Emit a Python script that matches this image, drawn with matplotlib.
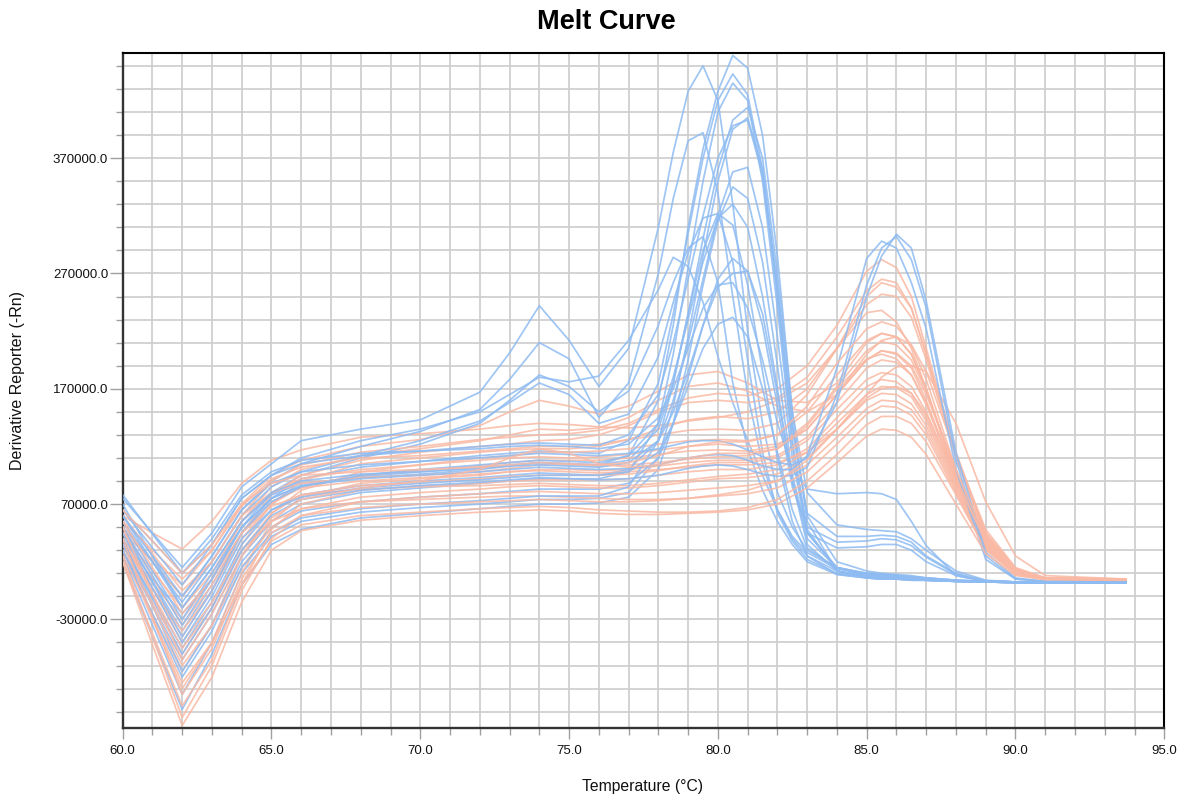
import matplotlib
matplotlib.use("Agg")
import matplotlib.pyplot as plt
from matplotlib.ticker import FixedLocator, MultipleLocator, FuncFormatter

# ---------------- data (derivative values listed in thousands) ----------------
SCALE = 1000.0

TEMP_BLUE = [60, 61, 62, 63, 64, 65, 66, 68, 70, 72, 73, 74, 75, 76, 77, 78,
             78.5, 79, 79.5, 80, 80.5, 81, 81.5, 82, 82.5, 83,
             84, 85, 85.5, 86, 86.5, 87, 88, 89, 90, 91, 93.7]

TEMP_SALMON = [60, 61, 62, 63, 64, 65, 66, 68, 70, 72, 73, 74, 75, 76, 77, 78,
               79, 80, 81, 82, 83, 84, 85, 85.5, 86, 86.5,
               87, 88, 89, 90, 91, 93.7]

blue_01 = [75, 45, 15, 45, 85, 105, 125, 135, 143, 167, 201, 242, 212, 172, 205, 310,
           375, 428, 450, 420, 330, 220, 140, 80, 50, 30, 15, 10, 9, 8, 7, 6, 4, 3, 2.5, 2, 2]
blue_02 = [50, 20, -10, 25, 65, 90, 105, 120, 133, 152, 178, 210, 196, 145, 175, 270,
           335, 385, 392, 340, 250, 165, 105, 65, 40, 25, 12, 8, 7, 6, 5, 4.5, 3.5, 3, 2.5, 2, 2]
blue_03 = [40, 5, -25, 5, 50, 80, 95, 110, 122, 140, 160, 182, 172, 150, 168, 225,
           262, 292, 302, 262, 175, 118, 82, 55, 35, 20, 9, 6, 5, 5, 4, 4, 3, 2.5, 2, 2, 2]
blue_04 = [65, 38, 10, 35, 75, 95, 110, 125, 135, 150, 165, 180, 176, 181, 212, 256,
           284, 276, 245, 198, 158, 125, 95, 65, 42, 28, 14, 9, 8, 7, 6, 5, 3.5, 3, 2.5, 2, 2]
blue_05 = [55, 20, -15, 20, 60, 85, 98, 112, 125, 142, 158, 175, 165, 140, 148, 198,
           245, 288, 318, 322, 280, 195, 115, 62, 38, 22, 10, 7, 6, 6, 5, 4, 3, 2.5, 2, 2, 2]
blue_06 = [70, 25, -20, 15, 55, 78, 88, 93, 96, 100, 103, 106, 105, 104, 112, 160,
           225, 310, 378, 428, 459, 448, 390, 285, 150, 55, 12, 6, 5, 5, 4, 4, 3, 2.5, 2, 2, 2]
blue_07 = [45, 3, -40, 0, 45, 75, 92, 102, 107, 112, 114, 116, 115, 114, 125, 175,
           235, 305, 370, 420, 443, 425, 360, 250, 125, 48, 12, 7, 6, 6, 5, 4, 3, 2.5, 2, 2, 2]
blue_08 = [30, -18, -65, -25, 25, 55, 70, 80, 84, 88, 90, 92, 92, 92, 98, 140,
           200, 275, 350, 410, 435, 420, 350, 240, 120, 45, 15, 10, 9, 8, 7, 6, 4, 3, 2.5, 2, 2]
blue_09 = [55, 12, -30, 10, 50, 75, 86, 94, 98, 102, 104, 106, 105, 104, 108, 135,
           175, 235, 300, 360, 403, 414, 370, 270, 150, 80, 52, 48, 47, 46, 40, 30, 12, 4, 2.5, 2, 2]
blue_10 = [25, -35, -95, -50, 10, 42, 55, 63, 67, 70, 72, 74, 74, 75, 80, 110,
           155, 215, 285, 350, 395, 405, 360, 260, 140, 60, 20, 12, 10, 9, 8, 6, 4, 3, 2.5, 2, 2]
blue_11 = [65, 32, 0, 35, 75, 95, 105, 112, 116, 120, 122, 123, 122, 121, 130, 165,
           210, 265, 320, 370, 398, 403, 355, 255, 135, 62, 42, 42, 43, 42, 37, 25, 10, 3.5, 2.5, 2, 2]
blue_12 = [35, -10, -55, -15, 35, 65, 78, 86, 90, 93, 95, 97, 96, 95, 100, 125,
           160, 210, 265, 320, 358, 362, 310, 215, 110, 45, 15, 8, 7, 7, 6, 5, 3.5, 2.5, 2, 2, 2]
blue_13 = [20, -45, -108, -60, 0, 35, 48, 58, 62, 66, 68, 70, 70, 71, 76, 100,
           140, 195, 260, 315, 345, 335, 280, 190, 95, 45, 32, 33, 35, 35, 30, 20, 8, 3, 2.5, 2, 2]
blue_14 = [50, 2, -45, -5, 45, 72, 85, 95, 100, 104, 106, 108, 107, 106, 112, 140,
           180, 230, 280, 318, 330, 310, 250, 170, 90, 40, 15, 9, 8, 7, 6, 5, 3.5, 2.5, 2, 2, 2]
blue_15 = [40, -18, -75, -35, 20, 50, 64, 72, 76, 79, 81, 83, 83, 83, 88, 110,
           140, 180, 225, 265, 283, 272, 225, 155, 85, 50, 37, 38, 40, 39, 34, 24, 9, 3, 2.5, 2, 2]
blue_16 = [60, 20, -20, 15, 55, 80, 90, 96, 98, 101, 103, 104, 103, 102, 106, 125,
           150, 185, 225, 258, 270, 272, 235, 165, 90, 35, 12, 7, 6, 6, 5, 4, 3, 2.5, 2, 2, 2]
blue_17 = [78, 44, 10, 40, 78, 98, 108, 114, 116, 118, 120, 121, 120, 118, 122, 145,
           170, 205, 240, 260, 262, 240, 195, 140, 100, 83, 79, 80, 79, 74, 55, 34, 8, 3, 2.5, 2, 2]
blue_18 = [50, 8, -35, 5, 50, 75, 86, 92, 95, 98, 100, 102, 101, 100, 101, 104,
           107, 110, 112, 113, 112, 108, 103, 100, 100, 112, 188, 283, 298, 292, 262, 222, 100, 22, 5, 3, 2.5]
blue_19 = [35, -12, -60, -20, 30, 60, 74, 82, 86, 89, 91, 93, 92, 91, 92, 95,
           98, 101, 103, 104, 103, 100, 96, 94, 95, 102, 165, 260, 292, 302, 282, 240, 108, 25, 5, 3, 2.5]
blue_20 = [60, 25, -10, 25, 65, 88, 98, 104, 107, 110, 112, 114, 113, 112, 114, 118,
           121, 124, 125, 125, 122, 117, 111, 106, 104, 110, 158, 250, 285, 304, 292, 246, 115, 28, 6, 3, 2.5]
blue_21 = [30, -25, -80, -40, 15, 45, 58, 66, 70, 73, 75, 77, 77, 77, 85, 125,
           175, 235, 290, 322, 312, 260, 185, 110, 55, 25, 9, 6, 5, 5, 4, 4, 3, 2.5, 2, 2, 2]
blue_22 = [45, -3, -50, -10, 40, 65, 76, 84, 88, 91, 93, 95, 95, 95, 98, 115,
           140, 172, 205, 226, 232, 215, 170, 115, 65, 32, 14, 10, 9, 8, 7, 5, 3.5, 2.5, 2, 2, 2]

salmon_01 = [60, 45, 31, 55, 88, 108, 117, 128, 131, 135, 138, 140, 139, 137, 136, 138,
             142, 145, 150, 160, 175, 205, 250, 262, 258, 240, 200, 110, 45, 14, 6, 5]
salmon_02 = [45, 22, 0, 30, 70, 95, 108, 120, 126, 138, 150, 160, 155, 148, 155, 168,
             182, 185, 175, 160, 158, 175, 210, 218, 215, 200, 170, 95, 38, 12, 5, 4.5]
salmon_03 = [35, 2, -30, 5, 55, 85, 100, 112, 118, 125, 130, 135, 134, 136, 145, 160,
             172, 175, 168, 155, 150, 165, 195, 203, 200, 188, 160, 90, 35, 11, 5, 4.5]
salmon_04 = [50, 20, -10, 20, 60, 90, 104, 115, 120, 126, 128, 130, 131, 134, 140, 152,
             162, 166, 164, 170, 190, 225, 272, 282, 275, 250, 205, 115, 45, 14, 6, 5]
salmon_05 = [40, -3, -45, -5, 45, 78, 95, 108, 115, 120, 122, 125, 126, 130, 138, 150,
             158, 160, 158, 162, 180, 215, 255, 265, 262, 240, 200, 112, 44, 13, 5, 4.5]
salmon_06 = [30, -15, -60, -20, 35, 70, 90, 105, 110, 115, 117, 118, 118, 120, 126, 135,
             143, 146, 144, 150, 170, 205, 243, 252, 250, 232, 195, 110, 42, 12, 5, 4.5]
salmon_07 = [55, 30, 5, 30, 68, 92, 102, 110, 112, 116, 118, 120, 120, 122, 126, 130,
             134, 135, 134, 140, 165, 205, 236, 238, 228, 205, 170, 92, 36, 11, 5, 4.5]
salmon_08 = [25, -25, -75, -35, 25, 62, 82, 98, 104, 110, 112, 115, 115, 116, 118, 122,
             125, 126, 125, 130, 150, 182, 212, 218, 215, 200, 170, 95, 38, 12, 5, 4.5]
salmon_09 = [45, 12, -20, 10, 55, 80, 92, 100, 104, 108, 110, 111, 110, 111, 113, 117,
             120, 122, 120, 122, 135, 165, 200, 212, 215, 208, 185, 112, 48, 15, 6, 5]
salmon_10 = [35, -3, -40, -5, 40, 70, 85, 95, 99, 103, 106, 108, 108, 108, 110, 113,
             116, 117, 116, 120, 140, 172, 203, 211, 208, 195, 168, 98, 40, 12, 5, 4.5]
salmon_11 = [60, 27, -5, 20, 60, 80, 88, 93, 95, 98, 101, 104, 104, 103, 104, 106,
             109, 111, 112, 118, 135, 165, 195, 203, 201, 190, 165, 100, 42, 13, 5, 4.5]
salmon_12 = [30, -30, -90, -50, 10, 55, 76, 88, 92, 95, 98, 100, 100, 99, 100, 103,
             106, 108, 108, 112, 128, 158, 188, 195, 193, 182, 158, 95, 40, 12, 5, 4.5]
salmon_13 = [50, 7, -35, 0, 45, 72, 84, 90, 93, 96, 98, 99, 98, 97, 98, 100,
             102, 104, 104, 106, 115, 135, 165, 180, 189, 190, 185, 140, 72, 25, 8, 5]
salmon_14 = [40, -8, -55, -20, 30, 62, 78, 86, 89, 92, 94, 95, 95, 95, 96, 99,
             103, 106, 106, 110, 125, 152, 178, 184, 182, 172, 150, 90, 36, 11, 5, 4.5]
salmon_15 = [20, -42, -105, -65, 0, 48, 70, 82, 86, 88, 90, 91, 91, 91, 92, 95,
             98, 100, 100, 104, 118, 145, 172, 178, 176, 166, 145, 88, 35, 11, 5, 4.5]
salmon_16 = [55, 15, -25, 5, 45, 68, 78, 83, 85, 86, 87, 88, 87, 86, 86, 88,
             91, 94, 96, 100, 115, 140, 165, 172, 171, 163, 142, 86, 34, 10, 5, 4.5]
salmon_17 = [35, -18, -70, -35, 15, 50, 66, 76, 80, 83, 85, 86, 85, 84, 84, 86,
             89, 92, 93, 96, 110, 135, 160, 166, 165, 157, 138, 84, 33, 10, 5, 4.5]
salmon_18 = [25, -45, -115, -70, -5, 40, 60, 72, 76, 79, 80, 81, 80, 79, 79, 80,
             82, 84, 86, 90, 104, 128, 153, 160, 159, 152, 134, 82, 32, 10, 5, 4.5]
salmon_19 = [45, -3, -50, -15, 30, 55, 66, 72, 74, 76, 77, 77, 76, 75, 74, 74,
             75, 77, 79, 84, 98, 122, 148, 155, 154, 147, 130, 80, 31, 10, 5, 4.5]
salmon_20 = [30, -28, -85, -50, 0, 38, 52, 60, 63, 66, 67, 68, 67, 65, 64, 63,
             63, 64, 67, 74, 90, 113, 139, 146, 146, 140, 124, 78, 30, 9, 4.5, 4.5]
salmon_21 = [20, -52, -122, -80, -15, 30, 47, 56, 60, 63, 64, 65, 64, 62, 61, 61,
             62, 63, 65, 70, 84, 106, 129, 135, 134, 128, 113, 70, 27, 8, 4.5, 4.5]
salmon_22 = [65, 38, 10, 35, 70, 88, 95, 98, 100, 102, 104, 106, 105, 104, 106, 112,
             120, 124, 124, 130, 155, 192, 222, 228, 224, 208, 178, 100, 40, 12, 5, 4.5]
salmon_23 = [40, -28, -95, -55, 5, 45, 60, 67, 70, 72, 73, 74, 73, 72, 72, 73,
             75, 78, 82, 90, 108, 135, 162, 170, 172, 166, 148, 92, 38, 11, 5, 4.5]
salmon_24 = [50, -8, -65, -25, 25, 58, 74, 84, 90, 100, 110, 118, 114, 105, 102, 104,
             110, 114, 114, 118, 138, 170, 196, 200, 196, 182, 156, 92, 37, 11, 5, 4.5]

BLUE_CURVES = [blue_01, blue_02, blue_03, blue_04, blue_05, blue_06, blue_07, blue_08,
               blue_09, blue_10, blue_11, blue_12, blue_13, blue_14, blue_15, blue_16,
               blue_17, blue_18, blue_19, blue_20, blue_21, blue_22]
SALMON_CURVES = [salmon_01, salmon_02, salmon_03, salmon_04, salmon_05, salmon_06,
                 salmon_07, salmon_08, salmon_09, salmon_10, salmon_11, salmon_12,
                 salmon_13, salmon_14, salmon_15, salmon_16, salmon_17, salmon_18,
                 salmon_19, salmon_20, salmon_21, salmon_22, salmon_23, salmon_24]

X_TICKS = [60.0, 65.0, 70.0, 75.0, 80.0, 85.0, 90.0, 95.0]
Y_TICKS = [-30000.0, 70000.0, 170000.0, 270000.0, 370000.0]

TITLE = "Melt Curve"
X_LABEL = "Temperature (°C)"
Y_LABEL = "Derivative Reporter (-Rn)"

# ---------------- drawing ----------------
plt.rcParams['font.family'] = ['Liberation Sans', 'DejaVu Sans']

BLUE = '#8dbbf2'
SALMON = '#f9b9a4'

fig = plt.figure(figsize=(11.84, 7.99), dpi=100)
ax = fig.add_axes([0.10363, 0.08849, 0.87973, 0.84556])

n = max(len(BLUE_CURVES), len(SALMON_CURVES))
for i in range(n):
    if i < len(SALMON_CURVES):
        ax.plot(TEMP_SALMON, [v * SCALE for v in SALMON_CURVES[i]],
                color=SALMON, lw=1.25, alpha=0.85, solid_joinstyle='round', zorder=3)
    if i < len(BLUE_CURVES):
        ax.plot(TEMP_BLUE, [v * SCALE for v in BLUE_CURVES[i]],
                color=BLUE, lw=1.25, alpha=0.85, solid_joinstyle='round', zorder=3)

ax.set_xlim(60, 95)
ax.set_ylim(-124400, 461400)

ax.xaxis.set_major_locator(FixedLocator(X_TICKS))
ax.xaxis.set_minor_locator(MultipleLocator(1.0))
ax.yaxis.set_major_locator(FixedLocator(Y_TICKS))
ax.yaxis.set_minor_locator(FixedLocator([-110000 + 20000 * k for k in range(29)]))
fmt = FuncFormatter(lambda v, p: f"{v:.1f}")
ax.xaxis.set_major_formatter(fmt)
ax.yaxis.set_major_formatter(fmt)

ax.grid(True, which='both', color='#cccccc', lw=1.2, zorder=0)
ax.set_axisbelow(True)

ax.tick_params(axis='y', which='major', length=9.5, width=1.0, color='#a0a0a0',
               labelsize=9.5, pad=1, labelcolor='#111111')
ax.tick_params(axis='y', which='minor', length=5, width=1.0, color='#a0a0a0')
ax.tick_params(axis='x', which='major', length=8, width=1.0, color='#a0a0a0',
               labelsize=9.5, pad=4, labelcolor='#111111')
ax.tick_params(axis='x', which='minor', length=5, width=1.0, color='#a0a0a0')

for side in ['left', 'bottom']:
    ax.spines[side].set_color('#333333')
    ax.spines[side].set_linewidth(1.7)
for side in ['top', 'right']:
    ax.spines[side].set_color('#000000')
    ax.spines[side].set_linewidth(1.5)

fig.text(606 / 1184, 1 - 22 / 799, TITLE, ha='center', va='center',
         fontsize=19.5, fontweight='bold', color='#000000')
fig.text(643 / 1184, 1 - 787 / 799, X_LABEL, ha='center', va='center',
         fontsize=11.3, color='#111111')
fig.text(18 / 1184, 1 - 380 / 799, Y_LABEL, ha='center', va='center',
         rotation=90, fontsize=11.5, color='#111111')

fig.savefig('out.png', dpi=100)
